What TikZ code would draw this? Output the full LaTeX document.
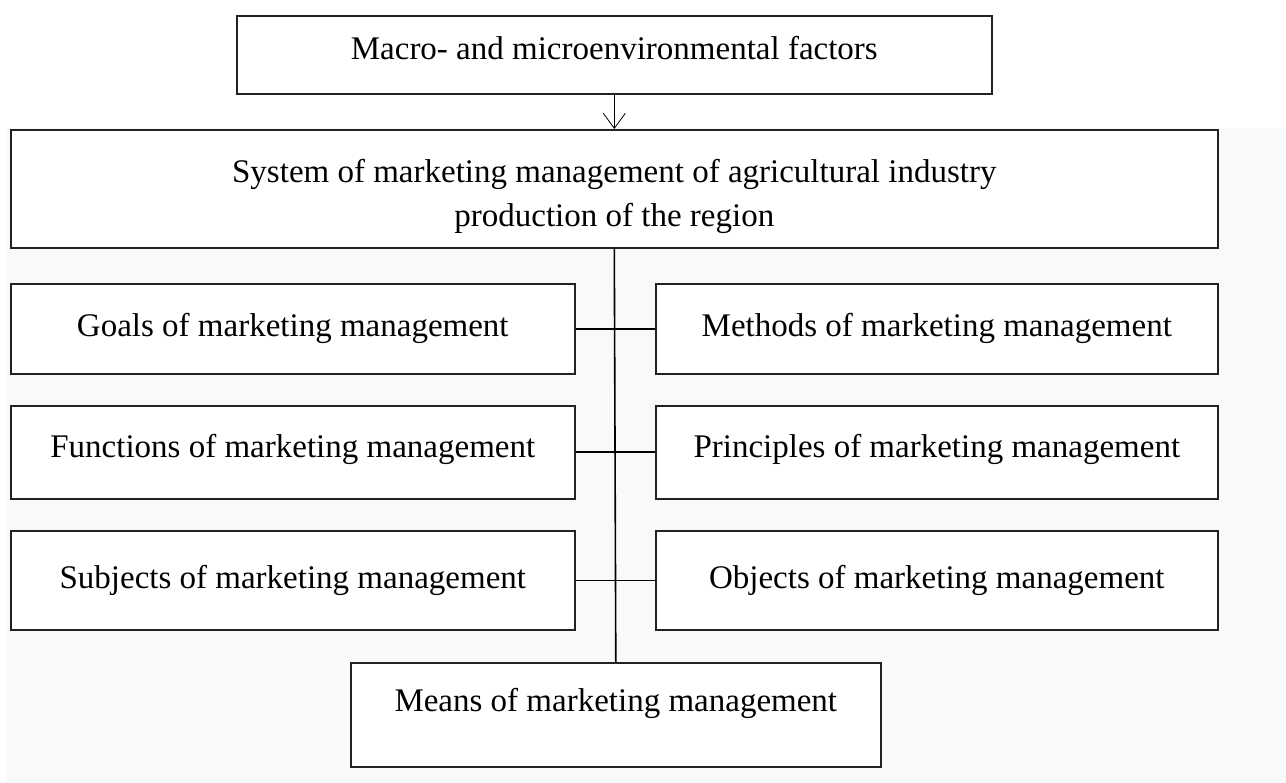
\documentclass[tikz,border=0pt]{standalone}
\usepackage{fontspec}
\setmainfont{Liberation Serif}
\usetikzlibrary{arrows.meta}

\definecolor{bggray}{HTML}{F8F9FA}
\definecolor{edgegray}{HTML}{222222}

\tikzset{
  box/.style={draw=edgegray, line width=1.6pt, fill=white, anchor=north west,
    inner sep=0pt, align=center, font=\fontsize{33}{44}\selectfont},
  link/.style={draw=black, line width=1.6pt},
}

\begin{document}
\begin{tikzpicture}[x=1pt,y=-1pt,>={Straight Barb[length=15pt,width=22pt]}]

  % Frame and background
  \useasboundingbox (0,0) rectangle (1286,783);
  \fill[bggray] (6,128) rectangle (1286,783);

%%%%%%%%%%%%%%%%%%%%%%%%%%%%%%%%%%%%%%%%%%
  % Top of the scheme
  \node[box, minimum width=755pt, minimum height=78pt, text depth=14pt] (factors) at (236,15)
    {Macro- and microenvironmental factors};
  \node[box, minimum width=1207pt, minimum height=118pt] (system) at (10,129)
    {\rule{0pt}{38pt}System of marketing management of agricultural industry\\production of the region};

  \draw[->, line width=0.8pt] (factors.south) -- (system.north);

%%%%%%%%%%%%%%%%%%%%%%%%%%%%%%%%%%%%%%%%%%
  % Left column
  \node[box, minimum width=564pt, minimum height=90pt] (goals) at (10,283)
    {Goals of marketing management};
  \node[box, minimum width=564pt, minimum height=93pt, text depth=12pt] (functions) at (10,405)
    {Functions of marketing management};
  \node[box, minimum width=564pt, minimum height=99pt] (subjects) at (10,530)
    {Subjects of marketing management};

  % Right column
  \node[box, minimum width=562pt, minimum height=90pt] (methods) at (655,283)
    {Methods of marketing management};
  \node[box, minimum width=562pt, minimum height=93pt, text depth=12pt] (principles) at (655,405)
    {Principles of marketing management};
  \node[box, minimum width=562pt, minimum height=99pt] (objects) at (655,530)
    {Objects of marketing management};

  % Bottom
  \node[box, minimum width=530pt, minimum height=104pt, text depth=30pt] (means) at (350,662)
    {Means of marketing management};

%%%%%%%%%%%%%%%%%%%%%%%%%%%%%%%%%%%%%%%%%%
  % Connectors
  \draw[link] (system.south) -- (means.north);
  \draw[link] (goals.east) -- (methods.west);
  \draw[link] (functions.east) -- (principles.west);
  \draw[link] (subjects.east) -- (objects.west);

\end{tikzpicture}
\end{document}
